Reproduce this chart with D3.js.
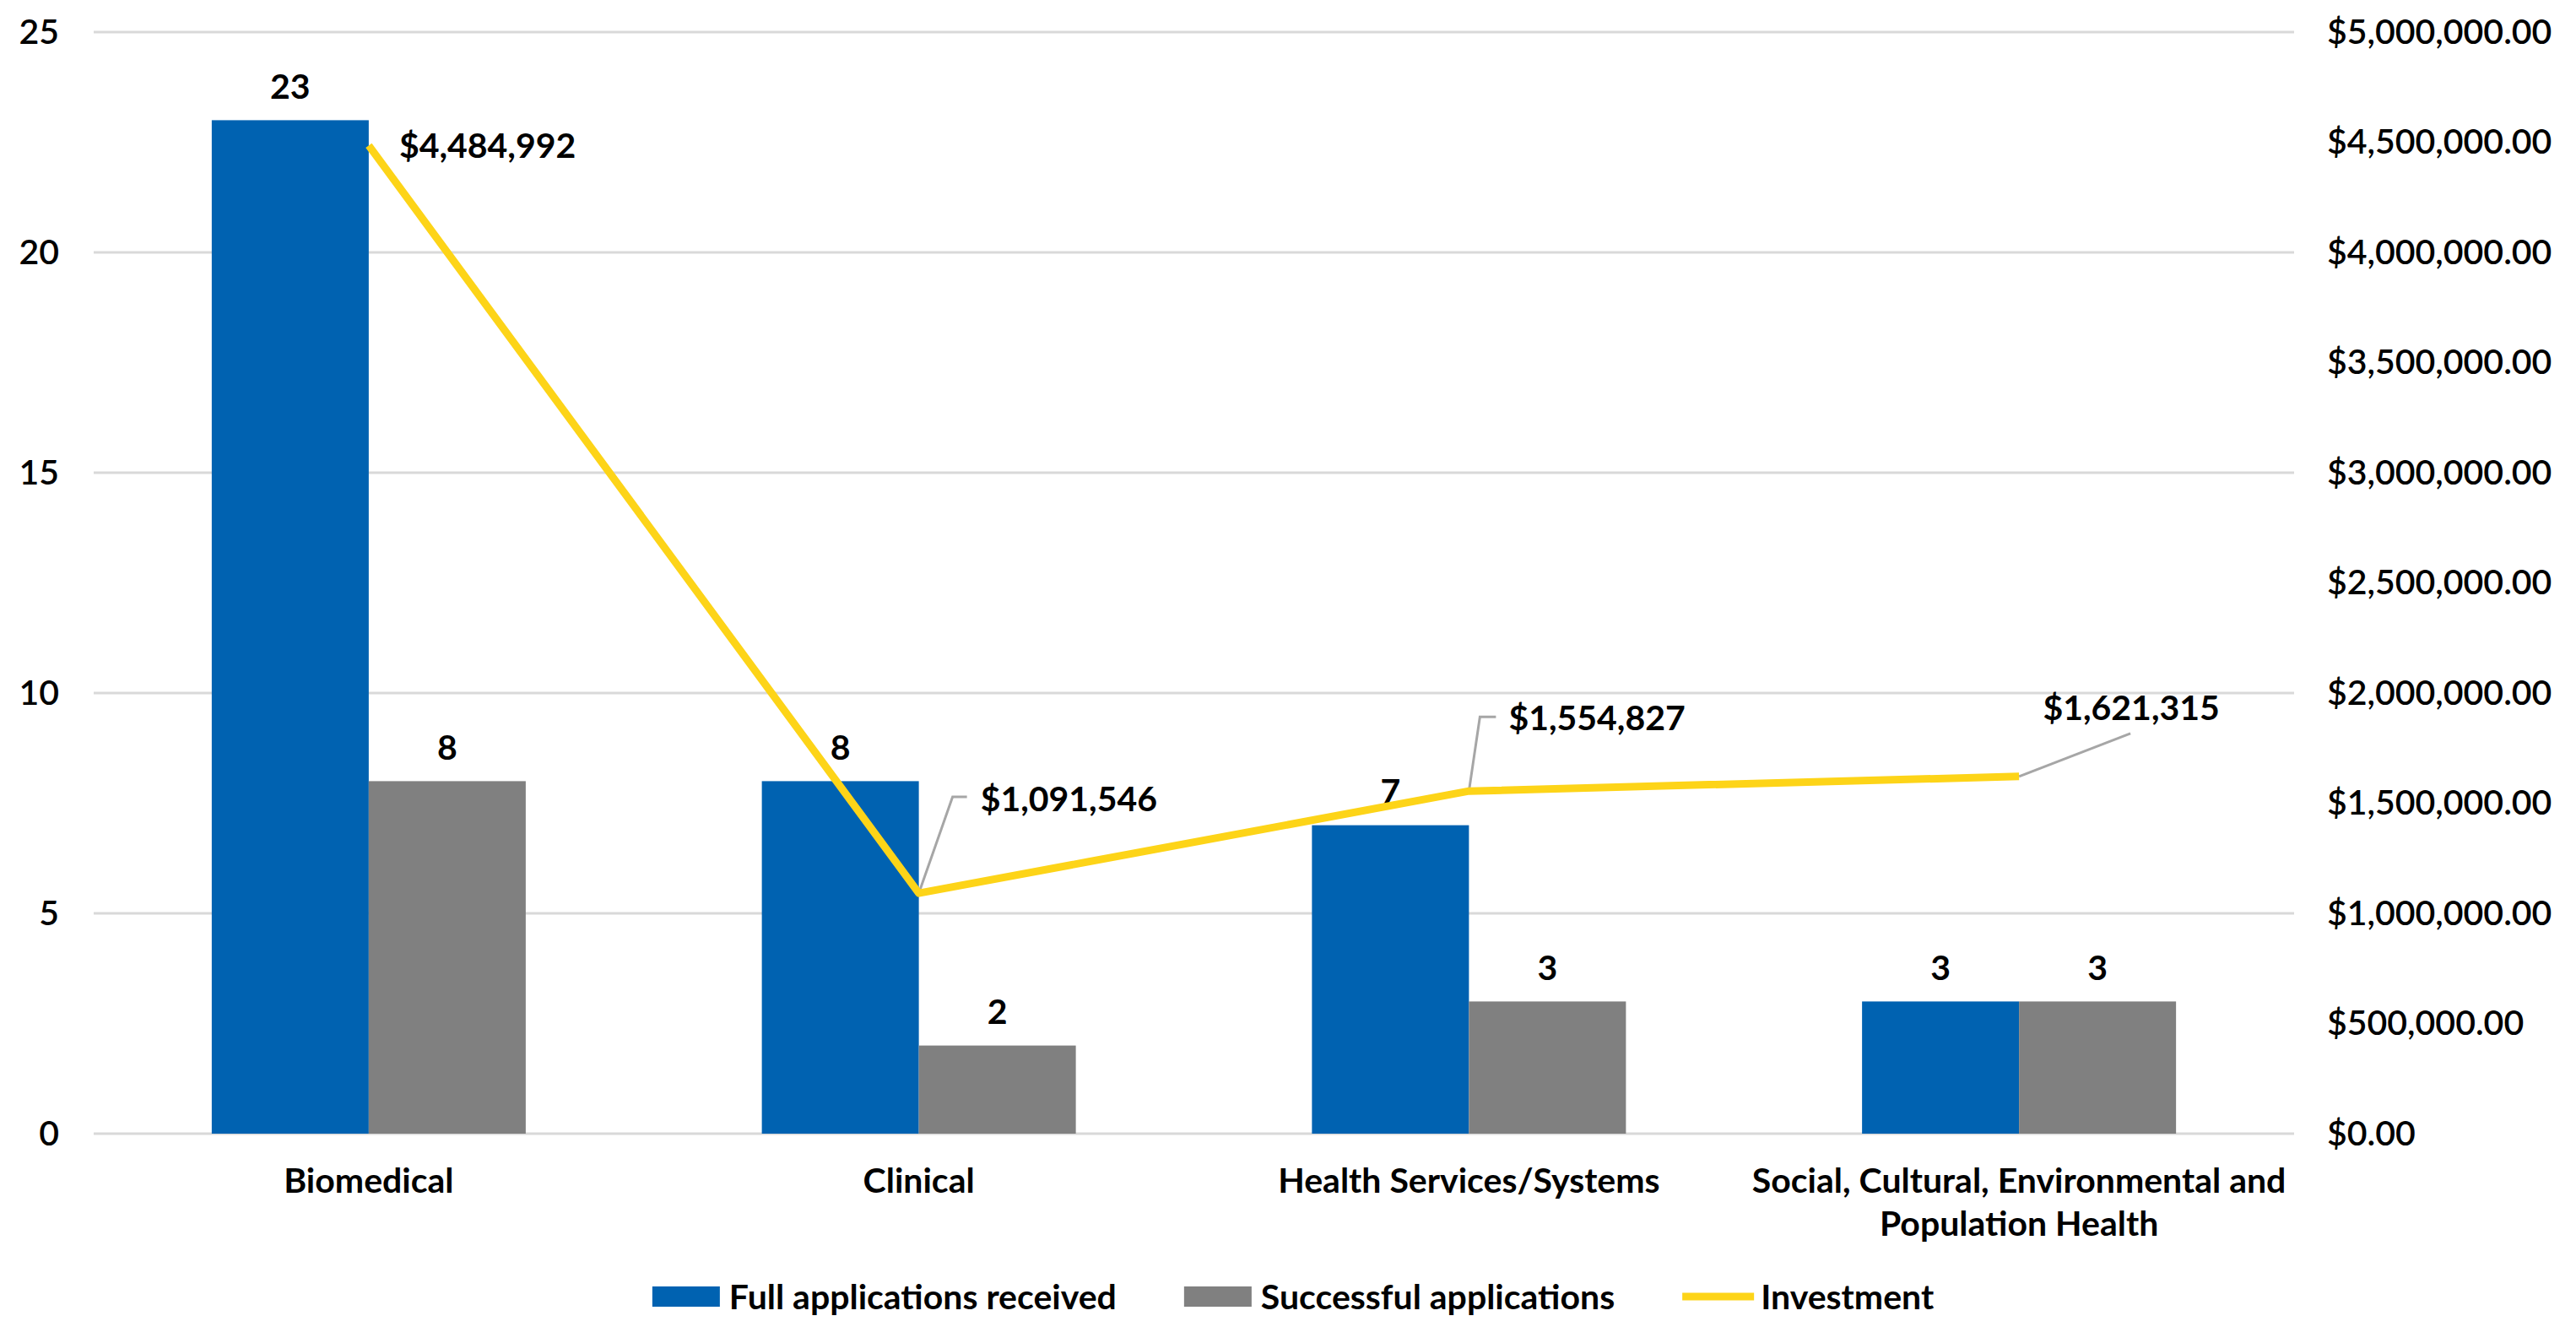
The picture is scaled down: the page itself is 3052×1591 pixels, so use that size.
<!DOCTYPE html>
<meta charset="utf-8">
<style>
  body { margin: 0; background: #fff; }
  svg { display: block; }
  text { font-family: Lato, "Open Sans", sans-serif; fill: #000; }
  .tick text { font-size: 41px; font-weight: 600; }
  .cat, .lbl, .legend text { font-size: 41px; font-weight: 700; }
</style>
<svg width="3052" height="1591"></svg>
<script src="https://cdnjs.cloudflare.com/ajax/libs/d3/7.8.5/d3.min.js"></script>
<script>
var categories = ["Biomedical", "Clinical", "Health Services/Systems", "Social, Cultural, Environmental and Population Health"];
var catLines = [["Biomedical"], ["Clinical"], ["Health Services/Systems"], ["Social, Cultural, Environmental and", "Population Health"]];
var series = ["Full applications received", "Successful applications"];
var fullApps = [23, 8, 7, 3];
var successApps = [8, 2, 3, 3];
var investment = [4484992, 1091546, 1554827, 1621315];
var leftTicks = [0, 5, 10, 15, 20, 25];
var rightTicks = [0, 500000, 1000000, 1500000, 2000000, 2500000, 3000000, 3500000, 4000000, 4500000, 5000000];

var colors = { "Full applications received": "#0062B1", "Successful applications": "#808080", "Investment": "#FDD418" };

// where each investment label sits relative to its point, plus its leader line
var invLabelPos = [
  { dx: 36, dy: 0, anchor: "start", leader: null },
  { dx: 73, dy: -112, anchor: "start", leader: [[40, -114], [57, -114]] },
  { dx: 47, dy: -87, anchor: "start", leader: [[13, -88], [32, -88]] },
  { dx: 133, dy: -82, anchor: "middle", leader: [[132, -51]] }
];

var svg = d3.select("svg");
var plotLeft = 111, plotRight = 2718, plotTop = 38, plotBottom = 1343;

var x0 = d3.scaleBand().domain(categories).range([plotLeft, plotRight]);
var x1 = d3.scaleBand().domain(series).range([0, x0.bandwidth()]).paddingOuter(0.752);
var y = d3.scaleLinear().domain([0, 25]).range([plotBottom, plotTop]);
var y2 = d3.scaleLinear().domain([0, 5000000]).range([plotBottom, plotTop]);

// gridlines
svg.append("g").selectAll("line")
  .data(leftTicks)
  .join("line")
    .attr("x1", plotLeft).attr("x2", plotRight)
    .attr("y1", function(d) { return y(d); })
    .attr("y2", function(d) { return y(d); })
    .attr("stroke", "#D9D9D9")
    .attr("stroke-width", 3);

var yAxis = svg.append("g")
  .attr("transform", "translate(" + plotLeft + ",0)")
  .call(d3.axisLeft(y).tickValues(leftTicks).tickSize(0).tickPadding(41));
yAxis.select(".domain").remove();

var y2Axis = svg.append("g")
  .attr("transform", "translate(" + plotRight + ",0)")
  .call(d3.axisRight(y2).tickValues(rightTicks).tickSize(0).tickPadding(39).tickFormat(d3.format("$,.2f")));
y2Axis.select(".domain").remove();
svg.selectAll(".tick text").attr("fill", "#000").attr("font-family", null).attr("font-size", null);
svg.selectAll("g.tick, g[font-family]").attr("font-family", null).attr("font-size", null);

// bars
var rows = categories.map(function(c, i) {
  return { cat: c, values: [
    { key: series[0], value: fullApps[i] },
    { key: series[1], value: successApps[i] }
  ] };
});

var groups = svg.append("g").selectAll("g")
  .data(rows)
  .join("g")
    .attr("transform", function(d) { return "translate(" + x0(d.cat) + ",0)"; });

groups.selectAll("rect")
  .data(function(d) { return d.values; })
  .join("rect")
    .attr("x", function(d) { return x1(d.key); })
    .attr("y", function(d) { return y(d.value); })
    .attr("width", x1.bandwidth())
    .attr("height", function(d) { return y(0) - y(d.value); })
    .attr("fill", function(d) { return colors[d.key]; });

groups.selectAll("text")
  .data(function(d) { return d.values; })
  .join("text")
    .attr("class", "lbl")
    .attr("x", function(d) { return x1(d.key) + x1.bandwidth() / 2; })
    .attr("y", function(d) { return y(d.value) - 40; })
    .attr("dy", "0.36em")
    .attr("text-anchor", "middle")
    .text(function(d) { return d.value; });

// investment line
var cx = function(i) { return x0(categories[i]) + x0.bandwidth() / 2; };
var line = d3.line()
  .x(function(d, i) { return cx(i); })
  .y(function(d) { return y2(d); });

// leader lines
investment.forEach(function(v, i) {
  var p = invLabelPos[i];
  if (!p.leader) return;
  var px = cx(i), py = y2(v);
  var pts = [[px, py]].concat(p.leader.map(function(o) { return [px + o[0], py + o[1]]; }));
  svg.append("path")
    .attr("d", d3.line()(pts))
    .attr("fill", "none")
    .attr("stroke", "#A6A6A6")
    .attr("stroke-width", 3);
});

svg.append("path")
  .datum(investment)
  .attr("d", line)
  .attr("fill", "none")
  .attr("stroke", colors["Investment"])
  .attr("stroke-width", 9)
  .attr("stroke-linejoin", "round");

svg.append("g").selectAll("text")
  .data(investment)
  .join("text")
    .attr("class", "lbl")
    .attr("x", function(d, i) { return cx(i) + invLabelPos[i].dx; })
    .attr("y", function(d, i) { return y2(d) + invLabelPos[i].dy; })
    .attr("dy", "0.36em")
    .attr("text-anchor", function(d, i) { return invLabelPos[i].anchor; })
    .text(d3.format("$,.0f"));

// category labels
svg.append("g").selectAll("text")
  .data(catLines)
  .join("text")
    .attr("class", "cat")
    .attr("text-anchor", "middle")
    .attr("x", function(d, i) { return cx(i); })
    .attr("y", 1398)
  .selectAll("tspan")
  .data(function(d) { return d; })
  .join("tspan")
    .attr("x", function() { return this.parentNode.getAttribute("x"); })
    .attr("dy", function(d, j) { return j === 0 ? "0.36em" : "51px"; })
    .text(function(d) { return d; });

// legend
var legendItems = [series[0], series[1], "Investment"];
var legend = svg.append("g").attr("class", "legend");
var lx = 0, ly = 1536;
legendItems.forEach(function(name, i) {
  var g = legend.append("g").attr("transform", "translate(" + lx + ",0)");
  if (name === "Investment") {
    g.append("line").attr("x1", 0).attr("x2", 85).attr("y1", ly).attr("y2", ly)
      .attr("stroke", colors[name]).attr("stroke-width", 9);
  } else {
    g.append("rect").attr("x", 0).attr("y", ly - 12).attr("width", 80).attr("height", 24)
      .attr("fill", colors[name]);
  }
  var sw = name === "Investment" ? 93 : 91;
  var t = g.append("text").attr("x", sw).attr("y", ly).attr("dy", "0.36em").text(name);
  lx += sw + t.node().getComputedTextLength() + 80;
});
var lw = lx - 80;
legend.attr("transform", "translate(" + (1532 - lw / 2) + ",0)");
</script>
